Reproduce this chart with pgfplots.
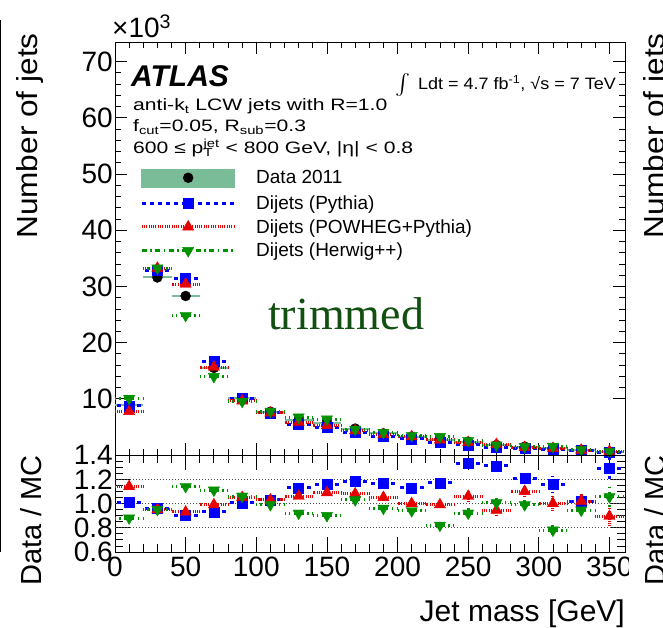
\documentclass[border=0pt]{standalone}
\usepackage{exscale}
\usepackage{pgfplots}
\pgfplotsset{compat=1.18}
\usepackage{pgfplotstable}
\usepackage{fontspec}
\setmainfont{Liberation Sans}
\newfontfamily\serifface{Liberation Serif}
\definecolor{mcblue}{RGB}{0,0,255}
\definecolor{mcred}{RGB}{230,0,0}
\definecolor{mcgreen}{RGB}{0,145,0}
\definecolor{databand}{RGB}{122,188,152}
\definecolor{trimgreen}{RGB}{18,80,18}
\newcommand{\fs}[1]{\fontsize{#1}{#1}\selectfont}
\newcommand{\wide}[2]{\scalebox{#1}[1]{#2}}

% jet mass bins (GeV), counts in units of 10^3, ratios data/MC, ratio error
\pgfplotstableread{
x   data  py     pw     hw     rpy    rpw    rhw    e
10  8.85  8.76   7.76   10.06  1.01   1.14   0.88   0.010
30  31.6  32.92  33.26  33.26  0.96   0.95   0.95   0.006
50  28.3  31.44  30.43  24.82  0.90   0.93   1.14   0.006
70  15.5  16.67  15.66  13.96  0.93   0.99   1.11   0.008
90  10.1  10.05  9.62   9.53   1.005  1.05   1.06   0.010
110 7.7   7.48   7.48   7.78   1.03   1.03   0.99   0.012
130 6.2   5.49   5.85   6.74   1.13   1.06   0.92   0.014
150 5.75  4.96   5.28   6.39   1.16   1.09   0.90   0.016
170 4.7   3.98   4.35   4.56   1.18   1.08   1.03   0.018
190 3.85  3.30   3.67   4.01   1.165  1.05   0.96   0.022
210 3.26  2.88   3.26   3.47   1.13   1.00   0.94   0.025
230 2.67  2.28   2.70   3.26   1.17   0.99   0.82   0.028
250 2.37  1.78   2.24   2.58   1.33   1.06   0.92   0.045
270 1.78  1.36   1.88   1.77   1.31   0.945  1.005  0.045
290 1.48  1.22   1.35   1.49   1.21   1.10   0.99   0.050
310 1.19  1.03   1.19   1.53   1.16   1.00   0.78   0.070
330 0.89  0.87   0.87   0.94   1.02   1.02   0.945  0.060
350 0.59  0.46   0.66   0.56   1.29   0.895  1.055  0.090
}\tab

\tikzset{
  pyline/.style={mcblue, line width=3pt, dash pattern=on 4pt off 4pt},
  pwline/.style={mcred, line width=3pt, dash pattern=on 1pt off 1.3pt},
  hwline/.style={mcgreen, line width=3pt, dash pattern=on 5pt off 3.5pt on 1.5pt off 3.5pt},
}
\pgfplotsset{
  atlas/.style={
    scale only axis, width=510pt,
    xmin=0, xmax=361,
    axis line style={line width=0.8pt},
    tick style={line width=0.8pt, black},
    tick align=inside, xtick pos=both, ytick pos=both,
    minor tick length=6pt,
    tick label style={font=\fs{28}},
    /pgf/number format/assume math mode=true,
    xtick={0,50,...,350}, minor x tick num=4,
  },
  mcpy/.style={only marks, mark=square*, mark size=5pt, mcblue, mark options={solid},
    error bars/x dir=both, error bars/x fixed=10, error bars/error mark=none,
    error bars/error bar style={pyline}},
  mcpw/.style={only marks, mark=triangle*, mark size=6.5pt, mcred, mark options={solid},
    error bars/x dir=both, error bars/x fixed=10, error bars/error mark=none,
    error bars/error bar style={pwline}},
  mchw/.style={only marks, mark=triangle*, mark size=6.5pt, mcgreen, mark options={solid, rotate=180},
    error bars/x dir=both, error bars/x fixed=10, error bars/error mark=none,
    error bars/error bar style={hwline}},
}

\begin{document}
\begin{tikzpicture}
\useasboundingbox (0pt,0pt) rectangle (663pt,627pt);

% main panel
\begin{axis}[atlas,
  at={(115pt,172pt)}, anchor=south west, height=413pt,
  ymin=0, ymax=73.5,
  ytick={10,20,...,70}, minor y tick num=4,
  major tick length=12pt,
  xticklabels={},
  yticklabel style={inner sep=2pt},
  legend style={at={(0.049,0.694)}, anchor=north west, draw=none, fill=none,
    font=\fs{19}, inner sep=0pt, row sep=8.5pt, column sep=20pt,
    nodes={inner sep=0pt}},
  legend cell align=left,
]
\addlegendimage{legend image code/.code={
  \fill[databand] (0pt,-9pt) rectangle (93pt,9pt);
  \fill[black] (46.5pt,0pt) circle (5pt);}}
\addlegendentry{Data 2011}
\addlegendimage{legend image code/.code={
  \draw[pyline] (0pt,0pt) -- (93pt,0pt);
  \draw[mcblue] plot[mark=square*, mark size=5pt] coordinates {(46.5pt,0pt)};}}
\addlegendentry{Dijets (Pythia)}
\addlegendimage{legend image code/.code={
  \draw[pwline] (0pt,0pt) -- (93pt,0pt);
  \draw[mcred] plot[mark=triangle*, mark size=6.5pt] coordinates {(46.5pt,0pt)};}}
\addlegendentry{Dijets (POWHEG+Pythia)}
\addlegendimage{legend image code/.code={
  \draw[hwline] (0pt,0pt) -- (93pt,0pt);
  \draw[mcgreen] plot[mark=triangle*, mark size=6.5pt, mark options={rotate=180}] coordinates {(46.5pt,0pt)};}}
\addlegendentry{Dijets (Herwig++)}

\addplot[forget plot, only marks, mark=*, mark size=5pt, black,
  error bars/x dir=both, error bars/x fixed=10, error bars/error mark=none,
  error bars/error bar style={databand, line width=2pt}] table[x=x, y=data] {\tab};
\addplot[forget plot, mcpy] table[x=x, y=py] {\tab};
\addplot[forget plot, mcpw] table[x=x, y=pw] {\tab};
\addplot[forget plot, mchw] table[x=x, y=hw] {\tab};
\end{axis}

% ratio panel
\begin{axis}[atlas,
  at={(115pt,75pt)}, anchor=south west, height=97pt,
  ymin=0.6, ymax=1.4,
  ytick={0.6,0.8,1.0,1.2,1.4}, minor y tick num=3,
  major tick length=15pt, minor tick length=8pt,
  yticklabel style={inner sep=2pt, /pgf/number format/.cd, fixed, fixed zerofill, precision=1},
  xticklabel style={inner sep=1pt, yshift=-4pt},
]
\addplot[forget plot, black!70, line width=0.8pt, dash pattern=on 1pt off 2pt] coordinates {(0,1.2) (361,1.2)};
\addplot[forget plot, black!70, line width=0.8pt, dash pattern=on 1pt off 2pt] coordinates {(0,1.0) (361,1.0)};
\addplot[forget plot, black!70, line width=0.8pt, dash pattern=on 1pt off 2pt] coordinates {(0,0.8) (361,0.8)};
\addplot[mcpy, error bars/y dir=both, error bars/y explicit] table[x=x, y=rpy, y error=e] {\tab};
\addplot[mcpw, error bars/y dir=both, error bars/y explicit] table[x=x, y=rpw, y error=e] {\tab};
\addplot[mchw, error bars/y dir=both, error bars/y explicit] table[x=x, y=rhw, y error=e] {\tab};
\end{axis}

% the next panel covers the end of the last tick label
\fill[white] (629pt,0pt) rectangle (655pt,70pt);

% texts
\node[anchor=base west, inner sep=0pt, font=\fs{28}] at (112pt,589pt) {×10\textsuperscript{3}};
\node[anchor=base west, inner sep=0pt, font=\fs{30}\bfseries\itshape] at (131pt,540pt) {ATLAS};
\node[anchor=base west, inner sep=0pt, font=\fs{16.5}] at (133pt,516.5pt) {\wide{1.28}{anti-k\textsubscript{t} LCW jets with R=1.0}};
\node[anchor=base west, inner sep=0pt, font=\fs{16.5}] at (133pt,495pt) {\wide{1.28}{f\textsubscript{cut}=0.05, R\textsubscript{sub}=0.3}};
\node[anchor=base west, inner sep=0pt, font=\fs{16.5}] at (133pt,473pt) {\wide{1.28}{600 ≤ p\rlap{\textsubscript{T}}\textsuperscript{jet} < 800 GeV, |η| < 0.8}};
\node[anchor=base east, inner sep=0pt, font=\fs{16.5}] at (616pt,537pt) {\wide{1.09}{{\fs{21}$\int$}\, Ldt = 4.7 fb\textsuperscript{-1}, √s = 7 TeV}};
\node[anchor=base west, inner sep=0pt, font=\fs{46}\serifface, text=trimgreen] at (268pt,298pt) {trimmed};
\node[anchor=base east, inner sep=0pt, rotate=90, font=\fs{29}] at (37pt,594pt) {\wide{1.09}{Number of jets}};
\node[anchor=base east, inner sep=0pt, rotate=90, font=\fs{29}] at (41pt,172pt) {Data / MC};
\node[anchor=base east, inner sep=0pt, font=\fs{30}] at (625pt,6pt) {Jet mass [GeV]};
% labels of the neighbouring panels, cut by the edge
\node[anchor=base east, inner sep=0pt, rotate=90, font=\fs{29}] at (664pt,594pt) {\wide{1.09}{Number of jets}};
\node[anchor=base east, inner sep=0pt, rotate=90, font=\fs{29}] at (665pt,172pt) {Data / MC};
\draw[line width=0.8pt] (0.5pt,75pt) -- (0.5pt,607pt);
\end{tikzpicture}
\end{document}
